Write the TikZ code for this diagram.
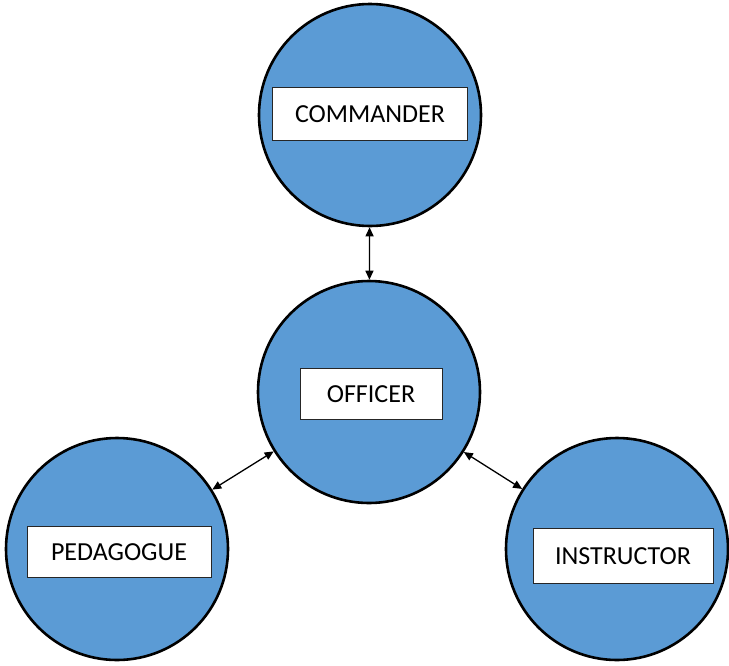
\documentclass[tikz,border=0pt]{standalone}
\usepackage{fontspec}
\setmainfont{Carlito}
\usetikzlibrary{arrows.meta}
\definecolor{roleblue}{HTML}{5B9BD5}
\tikzset{
  role/.style={circle, draw=black, line width=2.6pt, fill=roleblue,
    minimum size=222pt, inner sep=0pt},
  tag/.style={draw=black!85, line width=1pt, fill=white, inner sep=0pt,
    font=\fontsize{26pt}{30pt}\selectfont},
  link/.style={line width=1.3pt, {Triangle[length=9pt,width=8pt]}-{Triangle[length=9pt,width=8pt]}}
}
\begin{document}
\begin{tikzpicture}[x=1pt, y=-1pt]
  \useasboundingbox (0,0) rectangle (729,665);
  % role circles
  \node[role] (commander) at (370,115) {};
  \node[role] (officer)   at (369,392) {};
  \node[role] (pedagogue) at (117,549) {};
  \node[role] (instructor) at (617,549) {};
  % name boxes
  \node[tag, minimum width=195pt, minimum height=53pt] (tcommander) at (370,114) {COMMANDER};
  \node[tag, minimum width=142pt, minimum height=51pt] (tofficer) at (371,394) {OFFICER};
  \node[tag, minimum width=184pt, minimum height=51pt] (tpedagogue) at (119,552) {PEDAGOGUE};
  \node[tag, minimum width=180pt, minimum height=55pt] (tinstructor) at (623,556) {INSTRUCTOR};
  % two-way links
  \draw[link] (officer) -- (commander);
  \draw[link] (officer) -- (pedagogue);
  \draw[link] (officer) -- (instructor);
\end{tikzpicture}
\end{document}
